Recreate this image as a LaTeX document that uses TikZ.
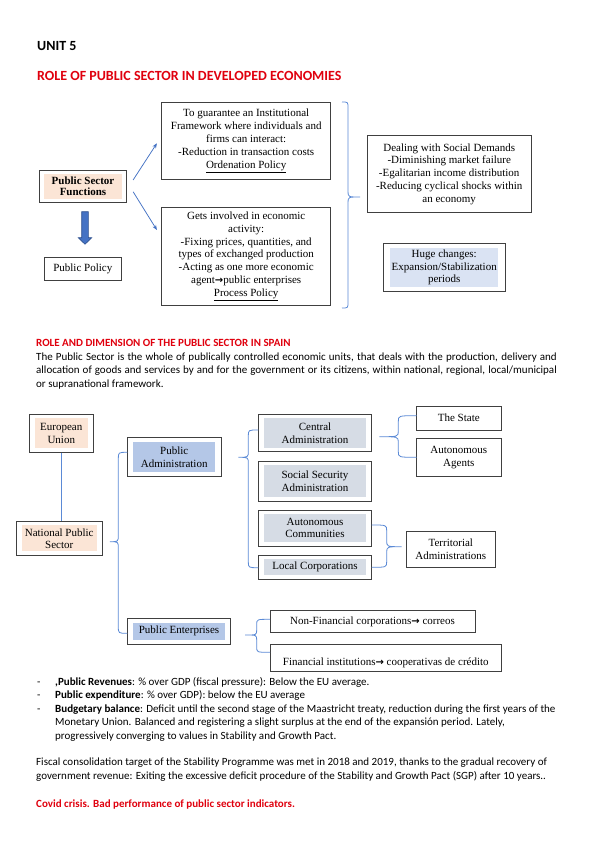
\documentclass[tikz,border=0pt]{standalone}
\usepackage{fontspec}
\setmainfont{Carlito}
\newfontfamily\tnr{Liberation Serif}
\newfontfamily\arrowfont{DejaVu Sans}
\newcommand\rarr{{\arrowfont\bfseries\fontsize{10}{10}\selectfont →}}
\usetikzlibrary{arrows.meta}
\definecolor{hred}{HTML}{E0000E}
\definecolor{peach}{HTML}{FBE5D6}
\definecolor{pblue}{HTML}{B4C7E7}
\definecolor{pgray}{HTML}{D6DCE5}
\definecolor{plight}{HTML}{DAE3F3}
\definecolor{lnblue}{HTML}{4472C4}
\definecolor{brblue}{HTML}{5B8AD6}
\definecolor{darkblue}{HTML}{2F528F}
\definecolor{boxc}{HTML}{404040}
\tikzset{
  box/.style={draw=boxc, line width=0.8pt, inner sep=0pt, align=center,
    font=\tnr\fontsize{11}{12.8}\selectfont},
  sz/.style 2 args={minimum width=#1pt, minimum height=#2pt},
  fillin/.style n args={3}{path picture={\fill[#1]
      ([xshift=#2pt,yshift=-#3pt]path picture bounding box.north west) rectangle
      ([xshift=-#2pt,yshift=#3pt]path picture bounding box.south east);}},
  brc/.style={draw=brblue, line width=0.8pt},
  arr/.style={draw=lnblue, line width=0.75pt, -{Stealth[length=5pt,width=4pt]}},
  body/.style={anchor=base west, inner sep=0pt, font=\fontsize{11}{13.4}\selectfont},
  head/.style={anchor=base west, inner sep=0pt, font=\fontsize{14}{17}\selectfont\bfseries},
}
\begin{document}
\begin{tikzpicture}[x=1pt,y=-1pt]
\useasboundingbox[fill=white] (0,0) rectangle (599,848);

% headings
\node[head] (unit) at (37,50.7) {UNIT 5};
\node[head, text=hred] (role) at (37,81) {ROLE OF PUBLIC SECTOR IN DEVELOPED ECONOMIES};

% upper diagram
\node[box, sz={87.4}{32.7}, fillin={peach}{5}{4}, font=\tnr\bfseries\fontsize{11}{11.5}\selectfont] (psf) at (83,186.3) {Public Sector\\Functions};
\node[box, sz={77.7}{23.4}] (pp) at (82.8,269) {Public Policy};
\node[box, sz={169}{77}] (g) at (246.2,140.8) {To guarantee an Institutional\\Framework where individuals and\\firms can interact:\\-Reduction in transaction costs\\\underline{Ordenation Policy}};
\node[box, sz={169}{98}] (gi) at (246.2,256.2) {Gets involved in economic\\activity:\\-Fixing prices, quantities, and\\types of exchanged production\\-Acting as one more economic\\agent\rarr public enterprises\\\underline{Process Policy}};
\node[box, sz={163.7}{76.6}] (dsd) at (449.2,174) {Dealing with Social Demands\\-Diminishing market failure\\-Egalitarian income distribution\\-Reducing cyclical shocks within\\an economy};
\node[box, sz={121.7}{48.4}, fillin={plight}{7}{4.4}] (huge) at (444.2,267.5) {Huge changes:\\Expansion/Stabilization\\periods};

\draw[arr] ([shift={(6pt,6.3pt)}]psf.east) -- ([shift={(-4.4pt,-2.5pt)}]g.west);
\draw[arr] ([shift={(6pt,-5.4pt)}]psf.east) -- ([shift={(-4.4pt,26.2pt)}]gi.west);
\draw[fill=lnblue, draw=darkblue, line width=0.6pt]
  (81.7,211.7) -- (88.3,211.7) -- (88.3,237.7) -- (91.7,237.7) -- (85,244.3)
  -- (78.3,237.7) -- (81.7,237.7) -- cycle;
\draw[brc] (342,102) .. controls (348,102) .. (348,108) -- (348,191)
  .. controls (348,197) .. (360,197) .. controls (348,197) .. (348,203)
  -- (348,302) .. controls (348,308) .. (342,308);

% section 2 text
\node[body, font=\fontsize{11}{13.4}\selectfont\bfseries, text=hred] (h2) at (36,346.7) {ROLE AND DIMENSION OF THE PUBLIC SECTOR IN SPAIN};
\node[body] (p1) at (36,360.5) {\makebox[520.7pt][s]{The Public Sector is the whole of publically controlled economic units, that deals with the production, delivery and}};
\node[body] (p2) at (36,373.9) {\makebox[520.7pt][s]{allocation of goods and services by and for the government or its citizens, within national, regional, local/municipal}};
\node[body] (p3) at (36,387.3) {or supranational framework.};

% lower diagram
\node[box, sz={64}{38}, fillin={peach}{5.5}{4}, font=\tnr\fontsize{11}{12.6}\selectfont] (eu) at (61.3,433.3) {European\\Union};
\node[box, sz={86.3}{34.7}, fillin={peach}{5.5}{4.5}, font=\tnr\fontsize{11}{12}\selectfont] (nps) at (59.2,538.3) {National Public\\Sector};
\node[box, sz={93.7}{39.4}, fillin={pblue}{6}{4.3}] (pa) at (174.2,457) {Public\\Administration};
\node[box, sz={103.4}{26}, fillin={pblue}{6}{4.2}] (pe) at (179,631.3) {Public Enterprises};
\node[box, sz={113.4}{37.7}, fillin={pgray}{6}{3.8}] (ca) at (315,432.9) {Central\\Administration};
\node[box, sz={113.4}{39.3}, fillin={pgray}{6}{3.8}] (ss) at (315,481.3) {Social Security\\Administration};
\node[box, sz={113.4}{36}, fillin={pgray}{6}{3.8}] (ac) at (315,528) {Autonomous\\Communities};
\node[box, sz={113.4}{23.3}, fillin={pgray}{6}{3.8}] (lc) at (315,567.3) {Local Corporations};
\node[box, sz={84.3}{24}] (state) at (458.8,418) {The State};
\node[box, sz={84.3}{38.4}] (agents) at (458.8,457.5) {Autonomous\\Agents};
\node[box, sz={89.7}{36.7}] (terr) at (450.8,549.3) {Territorial\\Administrations};
\node[box, sz={205}{22}] (nf) at (372.5,621.7) {Non-Financial corporations\rarr\ correos};
\node[box, sz={231.7}{27.4}] (fi) at (385.8,658) {\raisebox{-5pt}[\height][\depth]{Financial institutions\rarr\ cooperativas de crédito}};

\draw[brc] (eu.south) -- (eu.south |- nps.north);
% NPS brace
\draw[brc] (127.3,452.3) .. controls (118.3,452.3) .. (118.3,459) -- (118.3,535)
  .. controls (118.3,541.7) .. (110,541.7) .. controls (118.3,541.7) .. (118.3,548.4)
  -- (118.3,626.5) .. controls (118.3,633.3) .. (127.3,633.3);
% PA brace
\draw[brc] (258.3,430) .. controls (248.3,430) .. (248.3,436) -- (248.3,451)
  .. controls (248.3,457.3) .. (238.3,457.3) .. controls (248.3,457.3) .. (248.3,463.6)
  -- (248.3,561.5) .. controls (248.3,567.7) .. (258.3,567.7);
% CA brace
\draw[brc] (416.7,415.7) .. controls (398.3,415.7) .. (398.3,421.5) -- (398.3,431)
  .. controls (398.3,436.7) .. (379.3,436.7) .. controls (398.3,436.7) .. (398.3,442.4)
  -- (398.3,451.5) .. controls (398.3,457.3) .. (416.7,457.3);
% Territorial brace
\draw[brc] (371.7,525) .. controls (386.7,525) .. (386.7,531) -- (386.7,540.7)
  .. controls (386.7,546.7) .. (401.7,546.7) .. controls (386.7,546.7) .. (386.7,552.7)
  -- (386.7,561.3) .. controls (386.7,567.3) .. (371.7,567.3);
% PE brace
\draw[brc] (270,619.3) .. controls (256.7,619.3) .. (256.7,624.5) -- (256.7,629.8)
  .. controls (256.7,635) .. (245,635) .. controls (256.7,635) .. (256.7,640.2)
  -- (256.7,647) .. controls (256.7,652.3) .. (270,652.3);

% bullets
\node[body] (d1) at (37,685.4) {-};
\node[body] (b1) at (55,685.4) {\textbf{,Public Revenues}: \% over GDP (fiscal pressure): Below the EU average.};
\node[body] (d2) at (37,698.8) {-};
\node[body] (b2) at (55,698.8) {\textbf{Public expenditure}: \% over GDP): below the EU average};
\node[body] (d3) at (37,712.2) {-};
\node[body] (b3) at (55,712.2) {\textbf{Budgetary balance}: Deficit until the second stage of the Maastricht treaty, reduction during the first years of the};
\node[body] (b4) at (55,725.6) {Monetary Union. Balanced and registering a slight surplus at the end of the expansión period. Lately,};
\node[body] (b5) at (55,739) {progressively converging to values in Stability and Growth Pact.};
\node[body] (f1) at (36,765.6) {Fiscal consolidation target of the Stability Programme was met in 2018 and 2019, thanks to the gradual recovery of};
\node[body] (f2) at (36,779) {government revenue: Exiting the excessive deficit procedure of the Stability and Growth Pact (SGP) after 10 years..};
\node[body, font=\fontsize{11}{13.4}\selectfont\bfseries, text=hred] (cov) at (36,807.5) {Covid crisis. Bad performance of public sector indicators.};
\end{tikzpicture}
\end{document}
